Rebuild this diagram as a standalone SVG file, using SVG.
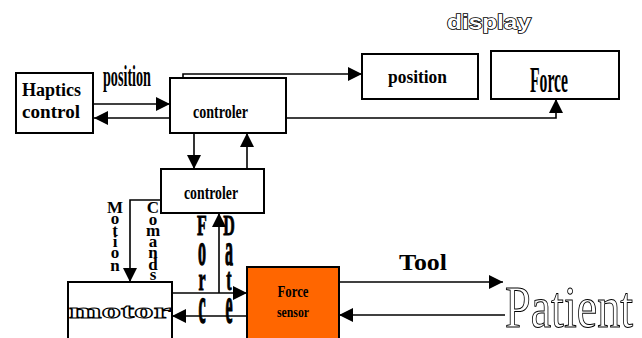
<svg xmlns="http://www.w3.org/2000/svg" width="642" height="338" viewBox="0 0 642 338">
<defs>
<marker id="ah" markerUnits="userSpaceOnUse" markerWidth="14" markerHeight="14" refX="14" refY="7" orient="auto">
<path d="M0,0 L14,7 L0,14 z" fill="#000"/>
</marker>
<style>
.box{fill:#fff;stroke:#000;stroke-width:2}
.ln{fill:none;stroke:#000;stroke-width:1.6;marker-end:url(#ah)}
.sb{font-family:"Liberation Serif",serif;font-weight:bold;fill:#000}
.ol{fill:#fff;stroke:#000;stroke-width:1}
.vl{font-family:"Liberation Serif",serif;font-weight:bold;fill:#000;text-anchor:middle}
.vh{font-family:"Liberation Serif",serif;font-weight:bold;fill:#000;stroke:#000;stroke-width:0.6;text-anchor:middle}
</style>
</defs>
<rect width="642" height="338" fill="#fff"/>
<text x="489" y="29" font-family="Liberation Sans,Arial,sans-serif" font-weight="bold" font-size="21" textLength="84" lengthAdjust="spacingAndGlyphs" text-anchor="middle" fill="#fff" stroke="#000" stroke-width="1.6" paint-order="stroke">display</text>
<g id="connectors">
<path class="ln" d="M94,104 H170"/>
<path class="ln" d="M170,118 H94"/>
<path class="ln" d="M183,78 V74 H362"/>
<path class="ln" d="M286,118 H556 V99"/>
<path class="ln" d="M194,133 V169"/>
<path class="ln" d="M247,169 V133"/>
<path class="ln" d="M161,200 H130 V282"/>
<path class="ln" d="M172,293 H247"/>
<path class="ln" d="M247,316 H172"/>
<path class="ln" d="M219,293 V213"/>
<path class="ln" d="M339,282 H503"/>
<path class="ln" d="M505,315 H339"/>
</g>
<g id="haptics">
<rect class="box" x="16" y="73" width="77" height="60"/>
<text class="sb" x="22" y="96" font-size="18" textLength="59" lengthAdjust="spacingAndGlyphs">Haptics</text>
<text class="sb" x="22" y="118" font-size="18" textLength="58" lengthAdjust="spacingAndGlyphs">control</text>
</g>
<text class="sb" x="103" y="86" font-size="30" textLength="48" lengthAdjust="spacingAndGlyphs">position</text>
<g id="controler1">
<rect class="box" x="170" y="78" width="116" height="55"/>
<text class="sb" x="193" y="118" font-size="19" textLength="55" lengthAdjust="spacingAndGlyphs">controler</text>
</g>
<g id="display-position">
<rect class="box" x="362" y="54" width="116" height="45"/>
<text class="sb" x="388" y="83" font-size="18" textLength="59" lengthAdjust="spacingAndGlyphs">position</text>
</g>
<g id="display-force">
<rect class="box" x="491" y="51" width="128" height="48"/>
<text class="sb" x="530" y="92" font-size="36" textLength="38" lengthAdjust="spacingAndGlyphs">Force</text>
</g>
<g id="controler2">
<rect class="box" x="161" y="169" width="103" height="44"/>
<text class="sb" x="184" y="199" font-size="19" textLength="54" lengthAdjust="spacingAndGlyphs">controler</text>
</g>
<g id="motion-label" class="vl" font-size="17">
<text x="115" y="213">M</text>
<text x="115" y="224">o</text>
<text x="115" y="236">t</text>
<text x="115" y="247">i</text>
<text x="115" y="258">o</text>
<text x="115" y="271">n</text>
</g>
<g id="comands-label" class="vl" font-size="17">
<text x="153" y="213">C</text>
<text x="153" y="225">o</text>
<text x="153" y="236">m</text>
<text x="153" y="247">a</text>
<text x="153" y="258">n</text>
<text x="153" y="270">d</text>
<text x="153" y="280">s</text>
</g>
<g id="force-label" class="vh">
<text transform="translate(202,235) scale(0.8,1.5)" font-size="20">F</text>
<text transform="translate(202,265) scale(0.8,2.3)" font-size="20">o</text>
<text transform="translate(202,290) scale(0.8,1.6)" font-size="20">r</text>
<text transform="translate(202,323) scale(0.8,2.6)" font-size="20">c</text>
</g>
<g id="data-label" class="vh">
<text transform="translate(229,235) scale(0.8,1.5)" font-size="20">D</text>
<text transform="translate(229,265) scale(0.8,2.3)" font-size="20">a</text>
<text transform="translate(229,290) scale(0.8,1.6)" font-size="20">t</text>
<text transform="translate(229,323) scale(0.8,2.6)" font-size="20">e</text>
</g>
<g id="motor">
<rect class="box" x="68" y="282" width="104" height="60"/>
<text x="69" y="318" font-family="Liberation Serif,serif" font-weight="bold" font-size="22" textLength="102" lengthAdjust="spacingAndGlyphs" class="ol">motor</text>
</g>
<g id="force-sensor">
<rect x="247" y="267" width="92" height="75" fill="#ff6600" stroke="#000" stroke-width="2"/>
<text class="sb" x="293" y="297" font-size="16" text-anchor="middle" textLength="31" lengthAdjust="spacingAndGlyphs">Force</text>
<text class="sb" x="293" y="317" font-size="15" text-anchor="middle" textLength="32" lengthAdjust="spacingAndGlyphs">sensor</text>
</g>
<text class="sb" x="399" y="270" font-size="24" textLength="48" lengthAdjust="spacingAndGlyphs">Tool</text>
<g id="patient">
<text x="505" y="327" font-family="Liberation Serif,serif" font-size="60" textLength="128" lengthAdjust="spacingAndGlyphs" class="ol">Patient</text>
</g>
</svg>
